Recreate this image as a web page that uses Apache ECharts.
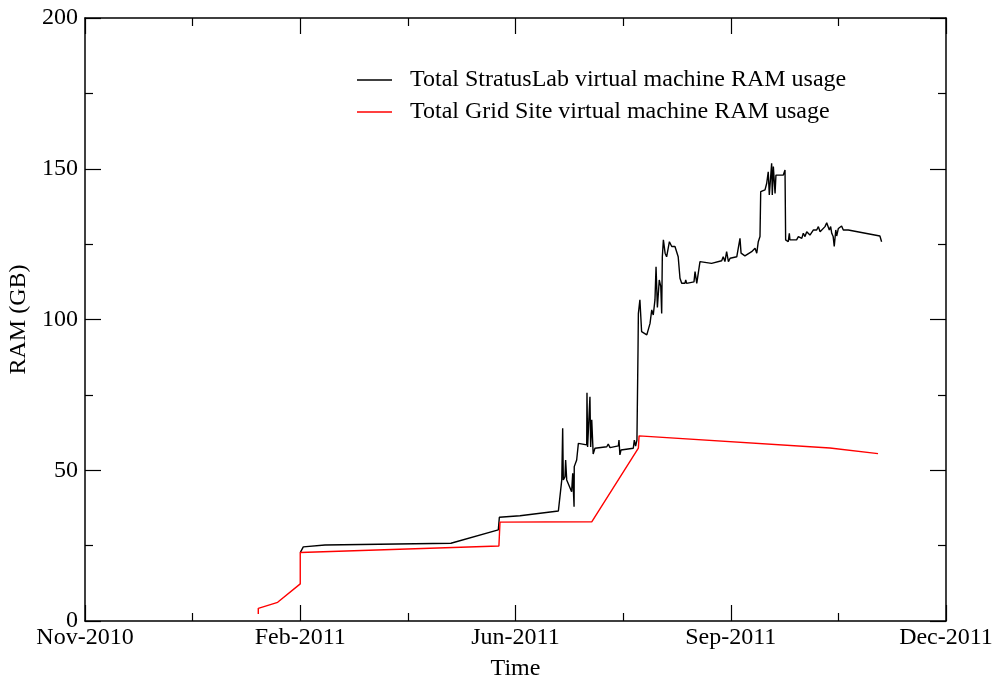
<!DOCTYPE html>
<html>
<head>
<meta charset="utf-8">
<script src="https://cdn.jsdelivr.net/npm/echarts@6/dist/echarts.min.js"></script>
<style>
  html, body { margin: 0; padding: 0; background: #fff; }
  #chart { width: 993px; height: 679px; }
</style>
</head>
<body>
<div id="chart"></div>
<script>
// day 0 of the axis, ticks every 100 days
const startDate = Date.UTC(2010, 10, 20);
const tickLabels = ['Nov-2010', 'Feb-2011', 'Jun-2011', 'Sep-2011', 'Dec-2011'];

// [time, RAM in GB]
const stratusLabRam = [
  ['2011-02-28 00:00', 22.7], ['2011-03-01 10:00', 24.6], ['2011-03-11 12:00', 25.2],
  ['2011-05-09 00:00', 25.8], ['2011-05-09 14:00', 26.2], ['2011-05-31 00:00', 30.2],
  ['2011-05-31 12:00', 34.4], ['2011-06-10 02:00', 34.9], ['2011-06-27 22:00', 36.5],
  ['2011-06-29 12:00', 46.8], ['2011-06-29 22:00', 63.9], ['2011-06-30 05:00', 46.8],
  ['2011-07-01 00:00', 47.9], ['2011-07-01 07:00', 53.4], ['2011-07-01 19:00', 46.8],
  ['2011-07-04 02:00', 42.9], ['2011-07-04 14:00', 49.0], ['2011-07-05 05:00', 37.9],
  ['2011-07-05 07:00', 51.2], ['2011-07-06 10:00', 53.4], ['2011-07-07 05:00', 58.9],
  ['2011-07-08 00:00', 59.5], ['2011-07-11 02:00', 58.4], ['2011-07-11 05:00', 75.7],
  ['2011-07-11 12:00', 57.7], ['2011-07-12 14:00', 74.4], ['2011-07-12 22:00', 57.7],
  ['2011-07-13 10:00', 66.7], ['2011-07-13 22:00', 58.4], ['2011-07-14 02:00', 55.4],
  ['2011-07-14 22:00', 57.3], ['2011-07-20 10:00', 57.8], ['2011-07-21 02:00', 58.7],
  ['2011-07-21 22:00', 57.5], ['2011-07-25 19:00', 58.1], ['2011-07-26 02:00', 60.0],
  ['2011-07-26 12:00', 55.1], ['2011-07-27 00:00', 56.7], ['2011-08-01 17:00', 57.3],
  ['2011-08-02 05:00', 60.0], ['2011-08-02 19:00', 58.0], ['2011-08-03 10:00', 60.0],
  ['2011-08-03 22:00', 89.9], ['2011-08-04 02:00', 102], ['2011-08-04 19:00', 106.5],
  ['2011-08-05 14:00', 96], ['2011-08-08 00:00', 94.9], ['2011-08-09 12:00', 98.7],
  ['2011-08-10 07:00', 103.2], ['2011-08-11 00:00', 101.5], ['2011-08-11 19:00', 106.5],
  ['2011-08-12 07:00', 117.5], ['2011-08-12 22:00', 104], ['2011-08-13 19:00', 113.1],
  ['2011-08-14 12:00', 110.9], ['2011-08-14 22:00', 102], ['2011-08-15 05:00', 120.8],
  ['2011-08-15 17:00', 126.4], ['2011-08-16 12:00', 122], ['2011-08-17 05:00', 120.8],
  ['2011-08-18 12:00', 125.8], ['2011-08-19 14:00', 124.2], ['2011-08-21 02:00', 124.2],
  ['2011-08-22 14:00', 120.8], ['2011-08-23 10:00', 113.7], ['2011-08-24 05:00', 112],
  ['2011-08-25 17:00', 112], ['2011-08-26 02:00', 113.1], ['2011-08-26 12:00', 112],
  ['2011-08-29 22:00', 112.5], ['2011-08-30 10:00', 115.9], ['2011-08-31 05:00', 112],
  ['2011-08-31 22:00', 112], ['2011-09-01 17:00', 119.2], ['2011-09-02 12:00', 118.6],
  ['2011-09-07 02:00', 118.6], ['2011-09-11 19:00', 119.5], ['2011-09-12 12:00', 120.8],
  ['2011-09-13 07:00', 119.2], ['2011-09-14 02:00', 122.5], ['2011-09-14 22:00', 119.2],
  ['2011-09-15 17:00', 120.3], ['2011-09-18 19:00', 120.8], ['2011-09-20 07:00', 126.9],
  ['2011-09-20 19:00', 122], ['2011-09-22 14:00', 121.1], ['2011-09-25 17:00', 122.5],
  ['2011-09-27 07:00', 123.6], ['2011-09-28 02:00', 122], ['2011-09-28 19:00', 125.8],
  ['2011-09-29 14:00', 127.5], ['2011-09-29 22:00', 142.4], ['2011-10-01 22:00', 143],
  ['2011-10-02 17:00', 145.2], ['2011-10-03 10:00', 149], ['2011-10-03 22:00', 141.3],
  ['2011-10-05 00:00', 151.8], ['2011-10-05 07:00', 141.3], ['2011-10-05 19:00', 150.7],
  ['2011-10-06 14:00', 141.8], ['2011-10-07 00:00', 147.9], ['2011-10-10 10:00', 147.9],
  ['2011-10-11 05:00', 149.6], ['2011-10-11 12:00', 126.4], ['2011-10-12 17:00', 125.8],
  ['2011-10-13 05:00', 128.6], ['2011-10-13 12:00', 126.4], ['2011-10-16 14:00', 126.4],
  ['2011-10-17 10:00', 127.5], ['2011-10-18 05:00', 128], ['2011-10-19 00:00', 126.9],
  ['2011-10-19 17:00', 128.6], ['2011-10-20 12:00', 127.5], ['2011-10-21 07:00', 129.1],
  ['2011-10-22 19:00', 128], ['2011-10-24 10:00', 129.7], ['2011-10-25 22:00', 129.7],
  ['2011-10-26 17:00', 130.8], ['2011-10-27 12:00', 129.1], ['2011-10-28 07:00', 129.7],
  ['2011-10-29 19:00', 130.8], ['2011-10-30 14:00', 132.1], ['2011-10-31 07:00', 132.4],
  ['2011-10-31 19:00', 129.7], ['2011-11-01 10:00', 130.8], ['2011-11-01 22:00', 128.6],
  ['2011-11-02 14:00', 127.5], ['2011-11-03 02:00', 124.2], ['2011-11-03 19:00', 129.7],
  ['2011-11-04 05:00', 127.7], ['2011-11-05 00:00', 130.2], ['2011-11-05 19:00', 129.7],
  ['2011-11-06 12:00', 131], ['2011-11-07 07:00', 129.7], ['2011-11-09 14:00', 129.7],
  ['2011-11-24 07:00', 127.7], ['2011-11-25 02:00', 125.8]
];

const gridSiteRam = [
  ['2011-02-08 12:00', 2.3], ['2011-02-08 12:00', 4.2], ['2011-02-17 12:00', 6.2],
  ['2011-02-28 00:00', 12.3], ['2011-02-28 00:00', 22.7], ['2011-05-31 07:00', 24.9],
  ['2011-05-31 19:00', 32.8], ['2011-07-13 10:00', 32.9], ['2011-08-04 02:00', 57.3],
  ['2011-08-04 10:00', 61.4], ['2011-11-01 02:00', 57.4], ['2011-11-23 10:00', 55.5]
];

function toDay(s) {
  const parts = s.split(' ');
  const d = parts[0].split('-').map(Number);
  const t = (parts[1] || '00:00').split(':').map(Number);
  return (Date.UTC(d[0], d[1] - 1, d[2], t[0], t[1]) - startDate) / 86400000;
}
function toPoints(rows) {
  return rows.map(r => [toDay(r[0]), r[1]]);
}

const font = 'Liberation Serif';
const chart = echarts.init(document.getElementById('chart'));

const xBase = {
  type: 'value', min: 0, max: 400, interval: 100,
  axisLine: { show: true, onZero: false, lineStyle: { color: '#000', width: 1.5 } },
  axisTick: { show: true, inside: true, length: 16, lineStyle: { color: '#000', width: 1.2 } },
  minorTick: { show: true, splitNumber: 2, length: 8, lineStyle: { color: '#000', width: 1.2 } },
  splitLine: { show: false }
};
const yBase = {
  type: 'value', min: 0, max: 200, interval: 50,
  axisLine: { show: true, onZero: false, lineStyle: { color: '#000', width: 1.5 } },
  axisTick: { show: true, inside: true, length: 16, lineStyle: { color: '#000', width: 1.2 } },
  minorTick: { show: true, splitNumber: 2, length: 8, lineStyle: { color: '#000', width: 1.2 } },
  splitLine: { show: false }
};

chart.setOption({
  animation: false,
  backgroundColor: '#fff',
  textStyle: { fontFamily: font, color: '#000' },
  grid: { left: 85, right: 47, top: 18, bottom: 58, containLabel: false, outerBoundsMode: 'none' },
  legend: {
    orient: 'vertical',
    left: 352,
    top: 63,
    icon: 'rect',
    itemWidth: 35,
    itemHeight: 1.5,
    itemGap: 8,
    textStyle: { fontFamily: font, fontSize: 24, lineHeight: 24, color: '#000', padding: [0, 0, 0, 13] },
    data: ['Total StratusLab virtual machine RAM usage', 'Total Grid Site virtual machine RAM usage']
  },
  xAxis: [
    Object.assign({}, xBase, {
      position: 'bottom',
      name: 'Time', nameLocation: 'middle', nameGap: 36,
      nameTextStyle: { fontFamily: font, fontSize: 24, color: '#000' },
      axisLabel: {
        fontFamily: font, fontSize: 24, color: '#000', margin: 5,
        formatter: v => tickLabels[Math.round(v / 100)] || ''
      }
    }),
    Object.assign({}, xBase, { position: 'top', axisLabel: { show: false } })
  ],
  yAxis: [
    Object.assign({}, yBase, {
      position: 'left',
      name: 'RAM (GB)', nameLocation: 'middle', nameGap: 46,
      nameTextStyle: { fontFamily: font, fontSize: 24, color: '#000' },
      axisLabel: { fontFamily: font, fontSize: 24, color: '#000', margin: 7 }
    }),
    Object.assign({}, yBase, { position: 'right', axisLabel: { show: false } })
  ],
  series: [
    {
      name: 'Total StratusLab virtual machine RAM usage',
      type: 'line', symbol: 'none',
      lineStyle: { color: '#000', width: 1.4 },
      itemStyle: { color: '#000' },
      data: toPoints(stratusLabRam)
    },
    {
      name: 'Total Grid Site virtual machine RAM usage',
      type: 'line', symbol: 'none',
      lineStyle: { color: '#ff0000', width: 1.4 },
      itemStyle: { color: '#ff0000' },
      data: toPoints(gridSiteRam)
    }
  ]
});
</script>
</body>
</html>
